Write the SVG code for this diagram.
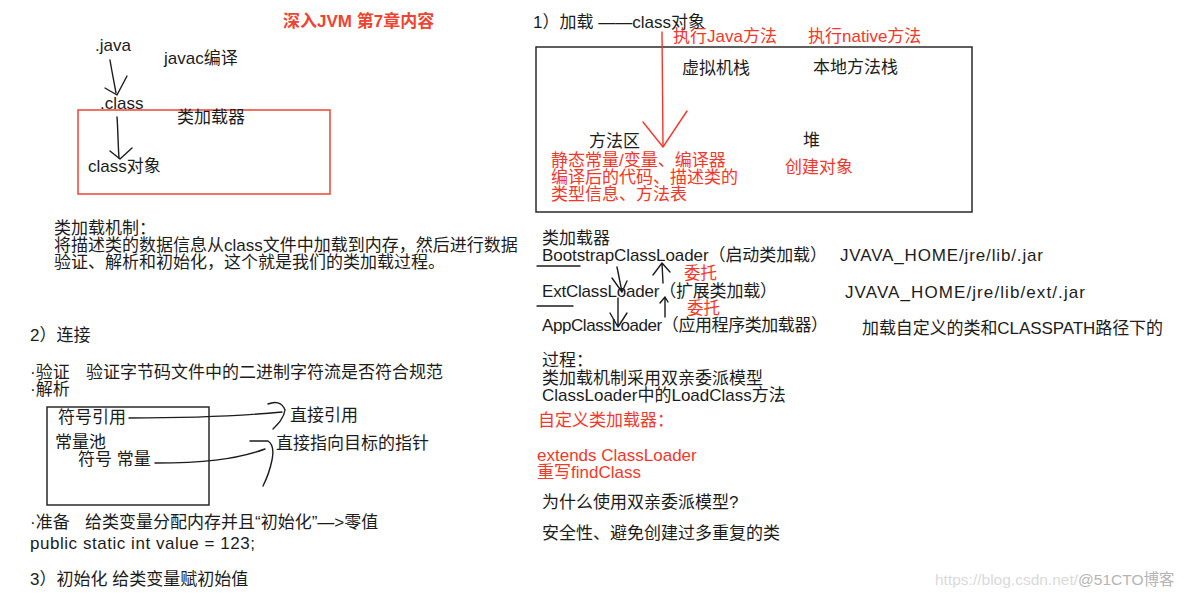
<svg xmlns="http://www.w3.org/2000/svg" width="1184" height="598" viewBox="0 0 1184 598">
<style>
text{font-family:"Liberation Sans","Noto Sans CJK SC",sans-serif;font-size:17px;fill:#1c1c1c}
.r{fill:#f5372a}
.t{font-weight:bold;fill:#f0422f}
.d{font-size:16.5px}
.w{font-size:15.5px;fill:#dadada}
.w2{fill:#b5b5b5}
.ln{fill:none;stroke:#1c1c1c;stroke-width:1.4;stroke-linecap:round;stroke-linejoin:round}
.lr{fill:none;stroke:#f5372a;stroke-width:1.4;stroke-linecap:round;stroke-linejoin:round}
</style>
<rect width="1184" height="598" fill="#fff"/>
<g id="title"><text class="t" x="283" y="27">深入JVM 第7章内容</text></g>
<g id="java"><text x="95" y="51">.java</text></g>
<g id="javac"><text x="164" y="64">javac编译</text></g>
<g id="class"><text x="100" y="109">.class</text></g>
<g id="loader-box">
<rect x="78" y="110" width="252" height="84" fill="none" stroke="#ee4433" stroke-width="1.5"/>
<text x="177" y="123">类加载器</text>
<text x="88" y="172">class对象</text>
</g>
<g id="mechanism">
<text x="54" y="234">类加载机制：</text>
<text x="54" y="251">将描述类的数据信息从class文件中加载到内存，然后进行数据</text>
<text x="54" y="268">验证、解析和初始化，这个就是我们的类加载过程。</text>
</g>
<g id="link">
<text x="30" y="341">2）连接</text>
<text x="30" y="378">·验证</text>
<text x="86" y="378">验证字节码文件中的二进制字符流是否符合规范</text>
<text x="30" y="395">·解析</text>
</g>
<g id="pool">
<rect x="47" y="407" width="162" height="98" fill="none" stroke="#1c1c1c" stroke-width="1.4"/>
<text x="58" y="423">符号引用</text>
<text x="55" y="448">常量池</text>
<text x="78" y="465">符号 常量</text>
</g>
<g id="direct-ref"><text x="290" y="421">直接引用</text></g>
<g id="direct-ptr"><text x="276" y="449">直接指向目标的指针</text></g>
<g id="prepare">
<text x="30" y="528">·准备</text>
<text x="85" y="528">给类变量分配内存并且“初始化”—&gt;零值</text>
<text x="30" y="549" textLength="225">public static int value = 123;</text>
</g>
<g id="init"><text x="30" y="585">3）初始化 给类变量赋初始值</text></g>
<g id="load-title"><text x="533" y="28">1）加载 ——class对象</text></g>
<g id="exec-java"><text class="r" x="673" y="42">执行Java方法</text></g>
<g id="exec-native"><text class="r" x="808" y="42">执行native方法</text></g>
<g id="runtime">
<rect x="536" y="47" width="436" height="165" fill="none" stroke="#1c1c1c" stroke-width="1.4"/>
<text x="682" y="74">虚拟机栈</text>
<text x="813" y="73">本地方法栈</text>
<text x="589" y="147">方法区</text>
<text x="803" y="146">堆</text>
<text class="r" x="551" y="166">静态常量/变量、编译器</text>
<text class="r" x="551" y="183">编译后的代码、描述类的</text>
<text class="r" x="551" y="200">类型信息、方法表</text>
<text class="r" x="785" y="173">创建对象</text>
</g>
<g id="loaders">
<text x="542" y="244">类加载器</text>
<text x="542" y="261" textLength="285">BootstrapClassLoader（启动类加载）</text>
<text x="840" y="261" textLength="203">JVAVA_HOME/jre/lib/.jar</text>
<text x="542" y="297" textLength="235">ExtClassLoader（扩展类加载）</text>
<text x="845" y="298" textLength="240">JVAVA_HOME/jre/lib/ext/.jar</text>
<text x="542" y="331" textLength="286">AppClassLoader（应用程序类加载器）</text>
<text x="862" y="334" textLength="301">加载自定义的类和CLASSPATH路径下的</text>
<text class="r d" x="684" y="279">委托</text>
<text class="r d" x="687" y="314">委托</text>
</g>
<g id="process">
<text x="542" y="366">过程：</text>
<text x="542" y="384">类加载机制采用双亲委派模型</text>
<text x="542" y="401">ClassLoader中的LoadClass方法</text>
</g>
<g id="custom">
<text class="r" x="538" y="426">自定义类加载器：</text>
<text class="r" x="537" y="461">extends ClassLoader</text>
<text class="r" x="537" y="478">重写findClass</text>
</g>
<g id="why">
<text x="542" y="508">为什么使用双亲委派模型?</text>
<text x="542" y="539">安全性、避免创建过多重复的类</text>
</g>
<g id="watermark"><text class="w" x="935" y="585">https://blog.csdn.net/<tspan class="w2">@51CTO博客</tspan></text></g>
<g id="connectors">
<path class="ln" d="M110,60 C112,72 114,82 116,93"/>
<path class="ln" d="M105,88 L117,95 L127,76"/>
<path class="ln" d="M117,117 C118,130 118,145 119,158"/>
<path class="ln" d="M110,151 L120,159 L132,148"/>
<path class="ln" d="M129,418 C180,418 240,416 282,412"/>
<path class="ln" d="M268,404 C275,401 282,402 285,410 C284,418 278,424 273,429"/>
<path class="ln" d="M155,463 C200,463 235,460 265,449"/>
<path class="ln" d="M250,441 L268,441 C273,444 274,450 272,460 C270,470 267,478 263,486"/>
<path class="lr" d="M662,32 L663,146"/>
<path class="lr" d="M643,122 L663,147 L687,111"/>
<path class="ln" d="M537,266 L580,266"/>
<path class="ln" d="M537,306 L573,306"/>
<path class="ln" d="M617,267 L622,292 M612,278 L622,292 L627,281"/>
<path class="ln" d="M663,283 L662,263 M653,275 L662,263 L670,272"/>
<path class="ln" d="M618,298 L618,327 M610,313 L618,327 L627,313"/>
<path class="ln" d="M665,317 L665,297 M660,303 L665,297 L668,302"/>
</g>
</svg>
